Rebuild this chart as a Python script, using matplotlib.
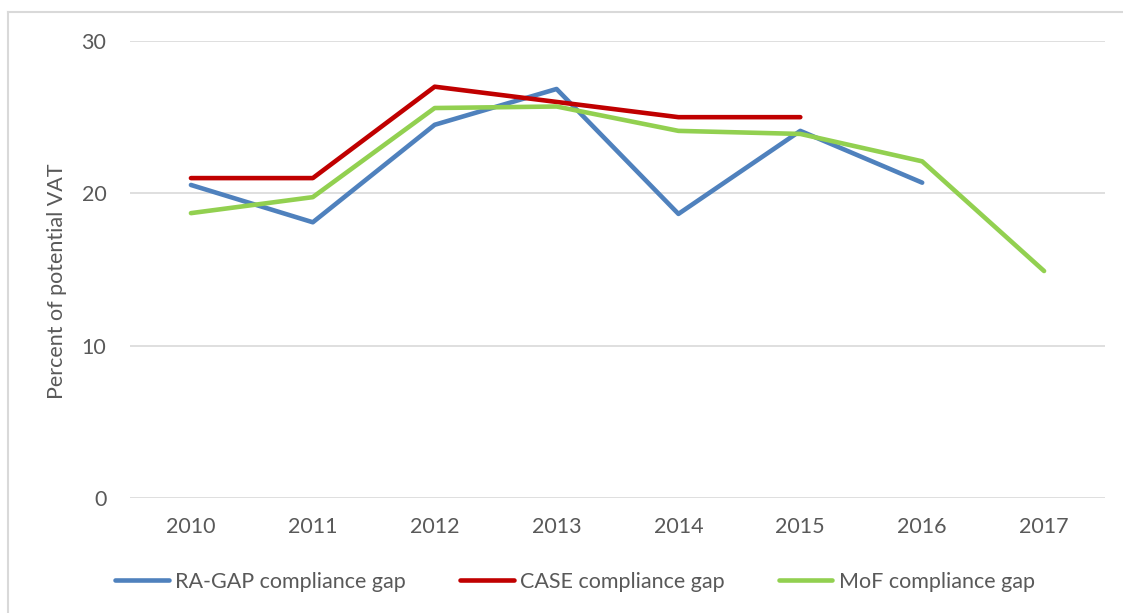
import matplotlib
matplotlib.use("Agg")
import matplotlib.pyplot as plt
from matplotlib.lines import Line2D

years = ["2010", "2011", "2012", "2013", "2014", "2015", "2016", "2017"]
ra_gap = [20.55, 18.1, 24.5, 26.85, 18.65, 24.1, 20.7, None]
case_gap = [21.0, 21.0, 27.0, 26.0, 25.0, 25.0, None, None]
mof_gap = [18.7, 19.75, 25.6, 25.7, 24.1, 23.9, 22.1, 14.9]

series = [
    ("RA-GAP compliance gap", ra_gap, "#4F81BD"),
    ("CASE compliance gap", case_gap, "#C00000"),
    ("MoF compliance gap", mof_gap, "#92D050"),
]

plt.rcParams['font.family'] = ['Lato', 'DejaVu Sans']
txt = "#595959"
fs = 15.5

fig = plt.figure(figsize=(11.23, 6.13), dpi=100)
ax = fig.add_axes([130 / 1123, 1 - 498 / 613, 975 / 1123, 457 / 613])

x = list(range(len(years)))
for name, vals, col in series:
    xs = [i for i, v in zip(x, vals) if v is not None]
    ys = [v for v in vals if v is not None]
    ax.plot(xs, ys, color=col, lw=3.3, solid_capstyle='round', solid_joinstyle='round', label=name)

ax.set_xlim(-0.5, len(years) - 0.5)
ax.set_ylim(0, 30)
ax.set_yticks([0, 10, 20, 30])
ax.set_xticks(x)
ax.set_xticklabels(years)
ax.grid(axis='y', color='#D9D9D9', lw=1.2)
ax.set_axisbelow(True)
for s in ax.spines.values():
    s.set_visible(False)
ax.tick_params(length=0, labelsize=fs, colors=txt)
ax.tick_params(axis='x', pad=14)
ax.tick_params(axis='y', pad=17)
ax.set_ylabel("Percent of potential VAT", fontsize=fs, color=txt)
ax.yaxis.set_label_coords(-0.065, 0.475)

# chart border (only top and left visible in the crop)
fig.add_artist(Line2D([8 / 1123, 8 / 1123], [0, 1 - 12 / 613], color='#D9D9D9', lw=1.5))
fig.add_artist(Line2D([8 / 1123, 1], [1 - 12 / 613, 1 - 12 / 613], color='#D9D9D9', lw=1.5))

handles = [Line2D([], [], color=c, lw=3.3, solid_capstyle='round') for _, _, c in series]
fig.legend(handles, [n for n, _, _ in series], loc='center', ncol=3,
           bbox_to_anchor=(575 / 1123, 1 - 582 / 613), frameon=False,
           fontsize=fs, labelcolor=txt, handlelength=2.5, handletextpad=0.3,
           columnspacing=2.5)

fig.savefig("out.png", dpi=100)
